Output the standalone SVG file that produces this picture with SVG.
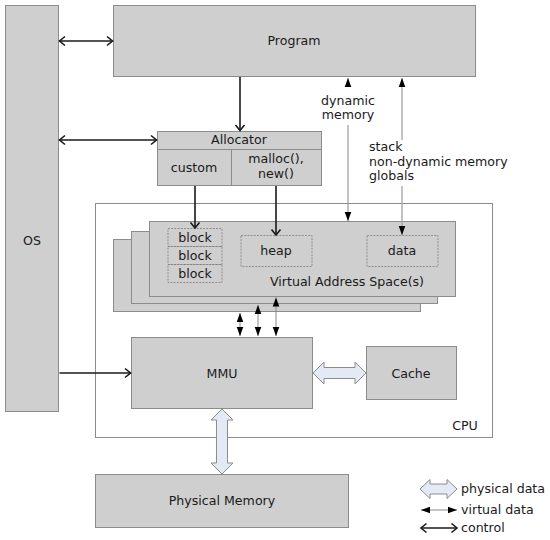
<svg xmlns="http://www.w3.org/2000/svg" width="550" height="540" viewBox="0 0 550 540">
<style>
text{font-family:"DejaVu Sans","Liberation Sans",sans-serif;font-size:12.6px;fill:#1a1a1a}
.c{text-anchor:middle}
.box{fill:#cfcfcf;stroke:#8c8c8c;stroke-width:1}
.dash{fill:none;stroke:#7f7f7f;stroke-width:0.8;stroke-dasharray:2,1.2}
.ctl{stroke:#1a1a1a;stroke-width:1.6;fill:none}
.gl{stroke:#9a9a9a;stroke-width:1.2;fill:none}
.vd{stroke:#8a8a8a;stroke-width:1;fill:none}
.phys{fill:#e3eaf5;stroke:#8c8c8c;stroke-width:1}
</style>
<defs>
<marker id="open" markerUnits="userSpaceOnUse" markerWidth="12" markerHeight="12" refX="0" refY="0" viewBox="-7 -6 8 12" orient="auto-start-reverse">
<path d="M-5.5,-4.5 L0,0 L-5.5,4.5" fill="none" stroke="#1a1a1a" stroke-width="1.6"/>
</marker>
<marker id="fill" markerUnits="userSpaceOnUse" markerWidth="12" markerHeight="10" refX="0" refY="0" viewBox="-10 -5 11 10" orient="auto-start-reverse">
<path d="M-9,-3.3 L0,0 L-9,3.3 Z" fill="#000"/>
</marker>
</defs>

<g id="cpu">
<rect x="95.5" y="203.5" width="397" height="234" fill="#fff" stroke="#8c8c8c" stroke-width="1"/>
<text x="465" y="430" class="c">CPU</text>
</g>

<g id="os">
<rect class="box" x="5.5" y="5.5" width="53" height="406"/>
<text x="32" y="245" class="c">OS</text>
</g>

<g id="program">
<rect class="box" x="113.5" y="5.5" width="362" height="71"/>
<text x="294" y="45" class="c">Program</text>
</g>

<g id="allocator">
<rect class="box" x="157.5" y="131.5" width="164" height="54"/>
<line x1="157.5" y1="149.5" x2="321.5" y2="149.5" stroke="#8c8c8c"/>
<line x1="231.5" y1="149.5" x2="231.5" y2="185.5" stroke="#8c8c8c"/>
<text x="239" y="144" class="c">Allocator</text>
<text x="194" y="172" class="c">custom</text>
<text x="276" y="163" class="c">malloc(),</text>
<text x="276" y="178" class="c">new()</text>
</g>

<g id="vas">
<rect class="box" x="113.5" y="239.5" width="307" height="72"/>
<rect class="box" x="131.5" y="231.5" width="306" height="72"/>
<rect class="box" x="149.5" y="221.5" width="306" height="75"/>
<text x="347" y="286" class="c">Virtual Address Space(s)</text>
</g>

<g id="blocks">
<rect class="dash" x="168" y="228.5" width="54" height="18"/>
<rect class="dash" x="168" y="246.5" width="54" height="18"/>
<rect class="dash" x="168" y="264.5" width="54" height="18"/>
<text x="195" y="242" class="c">block</text>
<text x="195" y="260" class="c">block</text>
<text x="195" y="278" class="c">block</text>
</g>

<g id="heap">
<rect class="dash" x="241" y="235.5" width="71" height="31"/>
<text x="276" y="255" class="c">heap</text>
</g>

<g id="data">
<rect class="dash" x="367" y="235.5" width="71" height="31"/>
<text x="402" y="255" class="c">data</text>
</g>

<g id="mmu">
<rect class="box" x="131.5" y="337.5" width="181" height="71"/>
<text x="222" y="377.5" class="c">MMU</text>
</g>

<g id="cache">
<rect class="box" x="366.5" y="346.5" width="90" height="53"/>
<text x="411" y="377.5" class="c">Cache</text>
</g>

<g id="physmem">
<rect class="box" x="95.5" y="474.5" width="253" height="53"/>
<text x="222" y="505" class="c">Physical Memory</text>
</g>

<g id="labels">
<text x="348" y="105" class="c">dynamic</text>
<text x="348" y="119" class="c">memory</text>
<text x="369" y="151">stack</text>
<text x="369" y="165.5">non-dynamic memory</text>
<text x="369" y="180">globals</text>
</g>

<g id="connectors">
<line class="ctl" x1="59.5" y1="41" x2="112.5" y2="41" marker-start="url(#open)" marker-end="url(#open)"/>
<line class="ctl" x1="59.5" y1="140" x2="156.5" y2="140" marker-start="url(#open)" marker-end="url(#open)"/>
<line class="ctl" x1="59.5" y1="373" x2="130.5" y2="373" marker-end="url(#open)"/>
<line class="ctl" x1="240" y1="77" x2="240" y2="130.5" marker-end="url(#open)"/>
<line class="ctl" x1="195" y1="186" x2="195" y2="228" marker-end="url(#open)"/>
<line class="ctl" x1="276" y1="186" x2="276" y2="235" marker-end="url(#open)"/>
<line class="gl" x1="348" y1="87" x2="348" y2="78" marker-end="url(#fill)"/>
<line class="gl" x1="348" y1="125" x2="348" y2="221" marker-end="url(#fill)"/>
<line class="gl" x1="402" y1="140" x2="402" y2="78" marker-end="url(#fill)"/>
<line class="gl" x1="402" y1="186" x2="402" y2="235" marker-end="url(#fill)"/>
<line class="vd" x1="240" y1="313" x2="240" y2="336" marker-start="url(#fill)" marker-end="url(#fill)"/>
<line class="vd" x1="258" y1="305" x2="258" y2="336" marker-start="url(#fill)" marker-end="url(#fill)"/>
<line class="vd" x1="276" y1="297.5" x2="276" y2="336" marker-start="url(#fill)" marker-end="url(#fill)"/>
<path class="phys" d="M313,373 L324,362 L324,367.5 L355,367.5 L355,362 L366,373 L355,384 L355,378.5 L324,378.5 L324,384 Z"/>
<path class="phys" d="M222,409 L233,420 L227.5,420 L227.5,463 L233,463 L222,474 L211,463 L216.5,463 L216.5,420 L211,420 Z"/>
</g>

<g id="legend">
<path class="phys" d="M420,489 L430,479.5 L430,484 L447,484 L447,479.5 L457,489 L447,498.5 L447,494 L430,494 L430,498.5 Z"/>
<text x="461" y="493">physical data</text>
<line class="vd" x1="421" y1="510" x2="457" y2="510" marker-start="url(#fill)" marker-end="url(#fill)"/>
<text x="461" y="514">virtual data</text>
<line class="ctl" x1="421" y1="528" x2="457" y2="528" marker-start="url(#open)" marker-end="url(#open)"/>
<text x="461" y="532">control</text>
</g>
</svg>
